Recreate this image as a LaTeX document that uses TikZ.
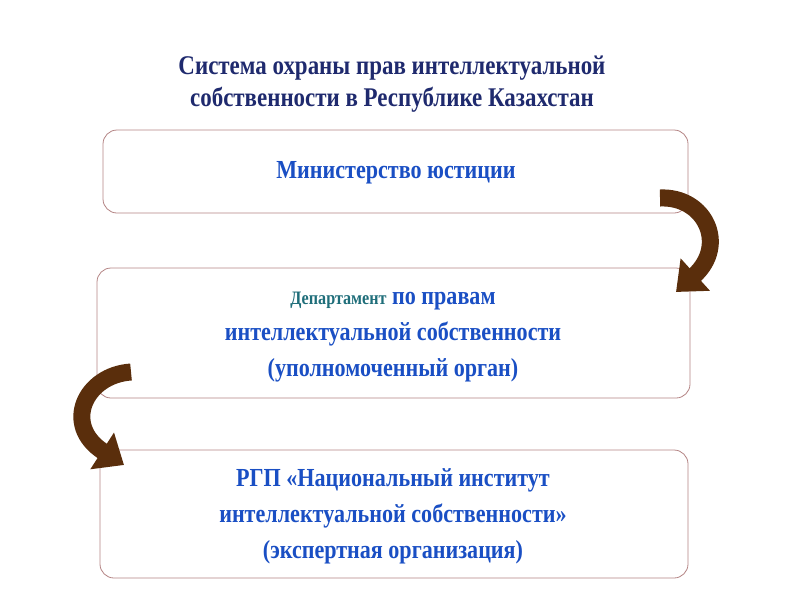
\documentclass[tikz,border=0pt]{standalone}
\usepackage{fontspec}
\setmainfont{Liberation Serif}
\usetikzlibrary{arrows.meta}
\definecolor{txtblue}{HTML}{1A4FC4}
\definecolor{navy}{HTML}{1F2A6E}
\definecolor{teal2}{HTML}{1F6E7A}
\definecolor{brd}{HTML}{B48484}
\definecolor{brn}{HTML}{5A2E0C}
\tikzset{
  box/.style={draw=brd, line width=0.8pt, rounded corners=14pt, fill=white},
  lbl/.style={font=\bfseries\fontsize{26}{36}\selectfont, text=txtblue, align=center, xscale=0.85},
  ttl/.style={font=\bfseries\fontsize{27}{32}\selectfont, text=navy, align=center, xscale=0.85},
  curvearrow/.style={draw=brn, line width=17pt, -{Triangle[length=26pt,width=42pt]}}
}
\begin{document}
\begin{tikzpicture}[x=1pt,y=-1pt]
\useasboundingbox (0,0) rectangle (800,600);
\node[ttl] (title) at (392,84) {Система охраны прав интеллектуальной\\ собственности в Республике Казахстан};
\draw[box] (103,130) rectangle (688,213);
\node[lbl] (b1) at (396,173) {Министерство юстиции};
\draw[box] (97,268) rectangle (690,398);
\node[lbl] (b2) at (393,337) {{\fontsize{19}{36}\selectfont\color{teal2}Департамент} по правам\\ интеллектуальной собственности\\ (уполномоченный орган)};
\draw[box] (100,450) rectangle (688,578);
\node[lbl] (b3) at (393,516) {РГП «Национальный институт\\ интеллектуальной собственности»\\ (экспертная организация)};
\coordinate (r1) at (660,198);
\coordinate (r2) at (676,292);
\coordinate (l1) at (131,372);
\coordinate (l2) at (124,465);
\draw[curvearrow] (r1) .. controls (705,196) and (728,245) .. (r2);
\draw[curvearrow] (l1) .. controls (85,375) and (62,425) .. (l2);
\end{tikzpicture}
\end{document}
